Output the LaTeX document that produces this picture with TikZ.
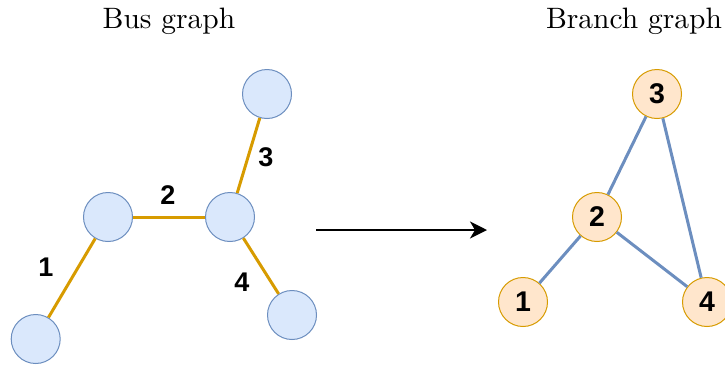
\documentclass[tikz,border=0pt]{standalone}
\usepackage{fontspec}
\newfontfamily\labfont{Liberation Sans}
\usetikzlibrary{arrows.meta}
\definecolor{busfill}{HTML}{DAE8FC}
\definecolor{busline}{HTML}{6C8EBF}
\definecolor{brfill}{HTML}{FFE6CC}
\definecolor{brline}{HTML}{D79B00}
\tikzset{
  busnode/.style={circle,draw=busline,fill=busfill,line width=1pt,minimum size=49pt,inner sep=0pt},
  brnode/.style={circle,draw=brline,fill=brfill,line width=1pt,minimum size=49pt,inner sep=0pt,
     font=\labfont\bfseries\fontsize{28.5}{28.5}\selectfont},
  busedge/.style={draw=brline,line width=3pt},
  bredge/.style={draw=busline,line width=3pt},
  elabel/.style={font=\labfont\bfseries\fontsize{27}{27}\selectfont,inner sep=0pt},
  title/.style={font=\fontsize{10}{12}\selectfont,scale=2.95,anchor=base,inner sep=0pt}
}
\begin{document}
\begin{tikzpicture}[x=1pt,y=-1pt]
\useasboundingbox (0,0) rectangle (725,365);
% titles
\node[title] (t1) at (169,28) {Bus graph};
\node[title] (t2) at (634,28) {Branch graph};
% bus graph
\node[busnode] (b1) at (35.7,339) {};
\node[busnode] (b2) at (108,217) {};
\node[busnode] (b3) at (230,217) {};
\node[busnode] (b4) at (267,94) {};
\node[busnode] (b5) at (292,315) {};
\draw[busedge] (b1) -- (b2);
\draw[busedge] (b2) -- (b3);
\draw[busedge] (b3) -- (b4);
\draw[busedge] (b3) -- (b5);
\node[elabel] (l1) at (46,267) {1};
\node[elabel] (l2) at (168,195) {2};
\node[elabel] (l3) at (266,157) {3};
\node[elabel] (l4) at (242,282) {4};
% arrow
\coordinate (a1) at (316,230);
\coordinate (a2) at (487,230);
\draw[line width=2.5pt,-{Stealth[length=17pt,width=17pt,inset=5pt]}] (a1) -- (a2);
% branch graph
\node[brnode] (n1) at (523,302) {1};
\node[brnode] (n2) at (597,217) {2};
\node[brnode] (n3) at (657,94) {3};
\node[brnode] (n4) at (707,302) {4};
\draw[bredge] (n1) -- (n2);
\draw[bredge] (n2) -- (n3);
\draw[bredge] (n2) -- (n4);
\draw[bredge] (n3) -- (n4);
\end{tikzpicture}
\end{document}
